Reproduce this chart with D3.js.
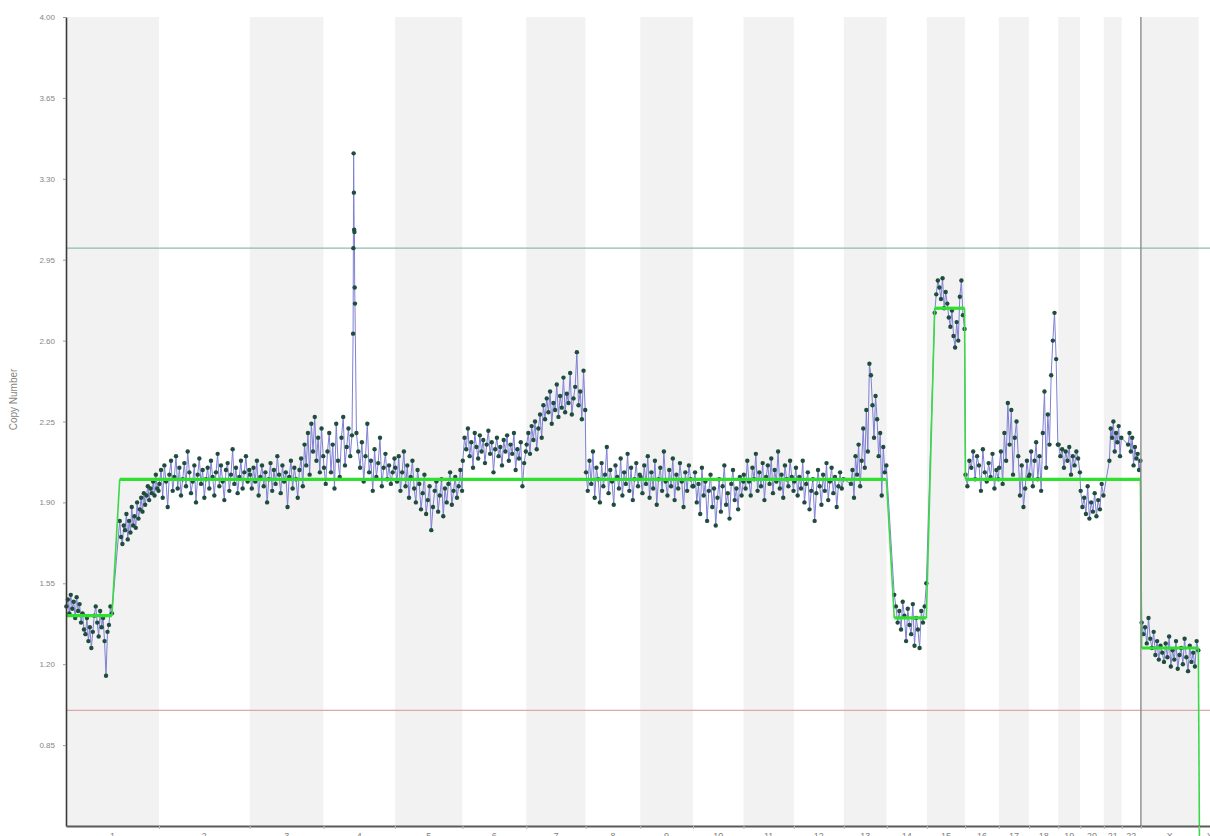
<!DOCTYPE html>
<html>
<head>
<meta charset="utf-8">
<script src="https://cdn.jsdelivr.net/npm/d3@7"></script>
<style>
  body { margin: 0; background: #fff; }
  svg { display: block; }
</style>
</head>
<body>
<svg id="chart" width="1210" height="836"></svg>
<script>
// ---- chromosome layout (hg19 lengths, Mb) ----
const chrNames = ['1','2','3','4','5','6','7','8','9','10','11','12','13','14','15','16','17','18','19','20','21','22','X','Y'];
const chrLengths = [249.25,243.2,198.0,191.15,180.9,171.1,159.1,146.4,141.2,135.5,135.0,133.85,115.2,107.35,102.5,90.35,81.2,78.1,59.1,63.0,48.1,51.3,155.3,59.4];

// ---- y axis ----
const yTicks = [0.85,1.20,1.55,1.90,2.25,2.60,2.95,3.30,3.65,4.00];
const refHigh = 3.0;
const refLow = 1.0;

// ---- probe copy-number values, in genomic order per chromosome arm / region ----
const chr1p = [1.45,1.48,1.42,1.50,1.44,1.47,1.40,1.49,1.43,1.46,1.38,1.42,1.35,1.33,1.40,1.30,1.36,1.27,1.34,1.41,1.45,1.38,1.32,1.43,1.36,1.40,1.30,1.15,1.34,1.37,1.45,1.42];
const chr1q = [1.82,1.75,1.72,1.80,1.78,1.85,1.74,1.82,1.77,1.88,1.80,1.84,1.79,1.90,1.83,1.87,1.92,1.86,1.94,1.89,1.93,1.97,1.91,1.96,1.94,1.99,1.93,2.02,1.96,1.95];
const chr2 = [1.98,2.04,1.92,2.06,1.99,1.88,2.02,2.08,1.95,2.01,2.10,1.96,2.05,1.93,2.00,2.07,1.97,2.12,2.03,1.94,1.99,2.06,1.90,2.02,2.09,1.98,2.04,1.92,2.00,2.05,1.96,2.08,2.01,1.93,2.03,2.11,1.97,2.06,1.99,1.91,2.04,2.07,1.95,2.02,2.13,1.98,2.05,1.94,2.01,2.08,1.96,2.03,2.10,1.99,2.04];
const chr3 = [2.02,1.96,2.05,1.99,2.08,1.93,2.01,2.06,1.97,2.03,1.90,2.00,2.07,1.95,2.04,1.98,2.10,2.02,1.94,2.06,1.99,2.03,1.88,2.01,2.08,1.96,2.05,2.00,1.92,2.04,2.09,1.97,2.15,2.06,2.20,2.02,2.24,2.12,2.27,2.08,2.18,2.03,2.22,2.10];
const chr4a = [2.05,1.98,2.12,2.20,2.03,2.15,1.96,2.24,2.08,2.01,2.18,2.27,2.06,2.14,2.22,2.10,2.19];
const chr4focal = [2.63,3.00,3.41,3.24,3.08,3.07,2.83,2.76];
const chr4b = [2.20,2.12,2.05,2.16,1.99,2.10,2.24,2.03,2.08,1.95,2.13,2.01,2.07,2.18,1.97,2.05,2.11,2.00,2.06,1.98,2.03,2.09];
const chr5 = [2.05,1.99,2.10,1.95,2.03,2.12,1.97,2.06,1.92,2.01,2.08,1.96,1.90,2.04,1.98,1.87,1.94,2.02,1.85,1.91,1.97,1.78,1.88,1.95,1.99,1.86,1.93,2.00,1.84,1.96,1.90,1.98,2.03,1.89,1.95,2.01,1.92,1.97,2.04,1.95];
const chr6 = [2.08,2.18,2.13,2.22,2.10,2.16,2.05,2.20,2.14,2.09,2.19,2.12,2.17,2.07,2.15,2.21,2.11,2.16,2.03,2.13,2.18,2.10,2.14,2.06,2.17,2.12,2.19,2.08,2.15,2.11,2.20,2.04,2.13,2.09,2.16,1.97,2.07,2.12];
const chr7 = [2.15,2.20,2.11,2.23,2.17,2.25,2.13,2.22,2.28,2.18,2.32,2.26,2.35,2.29,2.38,2.24,2.33,2.30,2.41,2.27,2.36,2.31,2.44,2.29,2.37,2.33,2.46,2.28,2.35,2.40,2.55,2.32,2.38,2.26,2.47,2.30];
const chr8 = [2.03,1.95,2.08,1.98,2.12,1.92,2.05,2.00,1.90,2.07,1.97,2.02,2.14,1.94,2.04,1.99,1.89,2.06,2.01,1.96,2.09,1.93,2.03,1.98,2.11,1.95,2.05,1.91,2.00,2.07,1.97,2.02];
const chr9 = [2.01,1.94,2.06,1.98,2.10,1.92,2.03,1.96,2.08,1.89,2.00,2.05,1.95,2.12,1.99,1.93,2.04,1.97,2.09,1.91,2.02,1.96,2.07,1.99,1.88,2.03,1.95,2.06,2.00,1.97];
const chr10 = [1.97,2.03,1.90,1.98,1.85,2.05,1.93,1.99,1.82,1.95,2.02,1.88,1.96,1.80,1.92,2.00,1.86,1.97,2.06,1.89,1.94,1.83,1.98,2.04,1.91,1.96,1.87,2.01,1.93,1.99];
const chr11 = [2.02,1.96,2.08,1.99,1.93,2.05,2.00,2.11,1.95,2.03,1.97,2.07,1.91,2.01,2.06,1.98,2.09,1.94,2.04,1.99,2.12,1.96,2.02,1.92,2.06,2.00,1.97,2.08,2.01,1.95];
const chr12 = [1.99,2.05,1.93,2.01,1.96,2.08,1.90,1.98,2.03,1.87,1.95,2.00,1.82,1.94,2.04,1.97,1.89,2.02,1.95,2.07,1.91,1.99,2.05,1.94,2.01,1.88,1.97,2.03,1.96,2.00];
const chr13 = [1.98,2.04,1.92,2.10,2.02,2.15,1.97,2.08,2.22,2.05,2.30,2.12,2.50,2.45,2.32,2.18,2.36,2.26,2.10,2.20,1.93,2.14,2.03,2.06];
const chr14 = [1.50,1.45,1.38,1.43,1.35,1.47,1.41,1.30,1.44,1.37,1.33,1.46,1.28,1.40,1.35,1.27,1.43,1.38,1.45,1.55];
const chr15 = [2.72,2.80,2.86,2.83,2.78,2.87,2.74,2.81,2.76,2.70,2.66,2.73,2.62,2.57,2.68,2.60,2.79,2.86,2.71,2.65];
const chr16 = [2.02,1.97,2.08,2.05,2.12,2.00,2.10,2.06,1.95,2.13,2.03,1.99,2.07,2.01,2.11,1.96,2.04,2.00];
const chr17 = [2.05,2.12,1.98,2.20,2.08,2.33,2.15,2.30,2.02,2.18,2.25,2.10,1.93,2.06,1.88,1.96,2.08,2.01];
const chr18 = [2.02,2.12,1.97,2.08,2.16,2.00,2.10,1.95,2.20,2.38,2.05,2.28,2.15,2.45,2.60,2.72,2.52,2.15];
const chr19 = [2.15,2.10,2.13,2.05,2.12,2.08,2.14,2.02,2.10,2.06,2.12,2.09,2.03];
const chr20 = [1.95,1.88,1.92,1.85,1.97,1.83,1.90,1.86,1.94,1.84,1.91,1.87,1.98,1.93];
const chr21 = [2.08,2.22,2.18,2.25,2.12,2.20,2.16,2.23,2.10,2.18];
const chr22 = [2.15,2.20,2.12,2.18,2.06,2.14,2.09,2.11,2.04,2.08];
const chrX = [1.38,1.33,1.36,1.29,1.40,1.31,1.27,1.34,1.24,1.30,1.22,1.28,1.25,1.21,1.29,1.23,1.32,1.19,1.26,1.22,1.30,1.18,1.24,1.27,1.20,1.31,1.23,1.17,1.28,1.21,1.25,1.19,1.30,1.26];

// ---- segmentation calls ----
const segFromChr = ['1','1','14','15','16','X','Y'];
const segFromPos = [1,144,20,21,1,2,3];
const segToChr   = ['1','13','14','15','22','X','Y'];
const segToPos   = [123,114,106,101,50,154,59];
const segCN      = [1.41,2.00,1.40,2.74,2.00,1.27,0.05];

// ---- derived genome coordinates ----
const offsets = [];
chrLengths.reduce((acc, len, i) => { offsets[i] = acc; return acc + len; }, 0);
const genomeTotal = d3.sum(chrLengths);
const gpos = (chr, pos) => offsets[chrNames.indexOf(chr)] + pos;

// region table: chromosome, first probe (Mb), last probe (Mb), values
const probeBlocks = [
  ['1',1,123,chr1p], ['1',144,248,chr1q], ['2',1,242,chr2], ['3',1,197,chr3],
  ['4',1,76,chr4a], ['4',79,84,chr4focal], ['4',88,190,chr4b],
  ['5',1,180,chr5], ['6',1,170,chr6], ['7',1,158,chr7], ['8',1,145,chr8],
  ['9',1,140,chr9], ['10',1,135,chr10], ['11',1,134,chr11], ['12',1,133,chr12],
  ['13',19,114,chr13], ['14',20,106,chr14], ['15',21,101,chr15], ['16',1,89,chr16],
  ['17',1,80,chr17], ['18',1,77,chr18], ['19',1,58,chr19], ['20',1,62,chr20],
  ['21',15,47,chr21], ['22',17,50,chr22], ['X',2,154,chrX]
];
const probes = probeBlocks.flatMap(([chr, from, to, vals]) =>
  vals.map((v, i) => ({ g: gpos(chr, from + (vals.length > 1 ? (to - from) * i / (vals.length - 1) : 0)), v }))
);
const segments = segCN.map((v, i) => ({
  a: gpos(segFromChr[i], segFromPos[i]),
  b: gpos(segToChr[i], segToPos[i]),
  v
}));

// ---- scales ----
const plotTop = 17, plotBottom = 826, plotLeft = 66;
const x = d3.scaleLinear().domain([0, genomeTotal]).range([plotLeft, 1221]);
const y = d3.scaleLinear().domain([0.5, 4.0]).range([plotBottom, plotTop]);

const svg = d3.select('#chart');

// chromosome bands
svg.append('g').selectAll('rect')
  .data(chrNames)
  .join('rect')
  .attr('x', (d, i) => x(offsets[i]))
  .attr('y', plotTop)
  .attr('width', (d, i) => x(offsets[i] + chrLengths[i]) - x(offsets[i]))
  .attr('height', plotBottom - plotTop)
  .attr('fill', (d, i) => i % 2 === 0 ? '#f2f2f2' : '#ffffff');

// reference levels
svg.append('line')
  .attr('x1', plotLeft).attr('x2', 1210)
  .attr('y1', y(refHigh)).attr('y2', y(refHigh))
  .attr('stroke', '#8cbcae').attr('stroke-width', 1.2);
svg.append('line')
  .attr('x1', plotLeft).attr('x2', 1210)
  .attr('y1', y(refLow)).attr('y2', y(refLow))
  .attr('stroke', '#dba8ab').attr('stroke-width', 1.2);

// probe trace
svg.append('path')
  .datum(probes)
  .attr('fill', 'none')
  .attr('stroke', '#7f80d4')
  .attr('stroke-width', 1)
  .attr('d', d3.line().x(d => x(d.g)).y(d => y(d.v)));

svg.append('g').selectAll('circle')
  .data(probes)
  .join('circle')
  .attr('cx', d => x(d.g))
  .attr('cy', d => y(d.v))
  .attr('r', 2.2)
  .attr('fill', '#1f4d3b');

// segmentation: transitions then levels
const segG = svg.append('g');
segG.selectAll('line.link')
  .data(segments.slice(1))
  .join('line')
  .attr('class', 'link')
  .attr('x1', (d, i) => x(segments[i].b))
  .attr('y1', (d, i) => y(segments[i].v))
  .attr('x2', d => x(d.a))
  .attr('y2', d => y(d.v))
  .attr('stroke', '#3cd848')
  .attr('stroke-width', 1.6);
segG.selectAll('line.level')
  .data(segments)
  .join('line')
  .attr('class', 'level')
  .attr('x1', d => x(d.a))
  .attr('x2', d => x(d.b))
  .attr('y1', d => y(d.v))
  .attr('y2', d => y(d.v))
  .attr('stroke', '#2fe02f')
  .attr('stroke-width', 3.2);

// marker at start of chromosome X
svg.append('line')
  .attr('x1', x(gpos('X', 0))).attr('x2', x(gpos('X', 0)))
  .attr('y1', plotTop).attr('y2', plotBottom)
  .attr('stroke', '#8c8c8c').attr('stroke-width', 1.4);

// y axis
const yAxis = svg.append('g')
  .attr('transform', `translate(${plotLeft},0)`)
  .call(d3.axisLeft(y).tickValues(yTicks).tickFormat(d3.format('.2f')).tickSize(3).tickSizeOuter(0).tickPadding(8));
yAxis.select('.domain').attr('stroke', '#3a3a3a').attr('stroke-width', 1.6);
yAxis.selectAll('.tick line').attr('stroke', '#999');
yAxis.selectAll('.tick text')
  .attr('fill', '#858585')
  .style('font-family', 'Liberation Sans, Arial, sans-serif')
  .style('font-size', '8px');

svg.append('text')
  .attr('transform', `translate(17,${(plotTop + plotBottom) / 2 - 22}) rotate(-90)`)
  .attr('text-anchor', 'middle')
  .attr('fill', '#858585')
  .style('font-family', 'Liberation Sans, Arial, sans-serif')
  .style('font-size', '10px')
  .text('Copy Number');

// x axis
const bounds = offsets.slice(1);
const xAxis = svg.append('g')
  .attr('transform', `translate(0,${plotBottom})`)
  .call(d3.axisBottom(x).tickValues(bounds).tickFormat('').tickSize(3).tickSizeOuter(0));
xAxis.select('.domain').attr('stroke', '#5a5a5a').attr('stroke-width', 2);
xAxis.selectAll('.tick line').attr('stroke', '#bbb');

// chromosome labels sit at the lower edge, partly below the frame
svg.append('g').selectAll('text')
  .data(chrNames)
  .join('text')
  .attr('x', (d, i) => x(offsets[i] + chrLengths[i] / 2))
  .attr('y', 839)
  .attr('text-anchor', 'middle')
  .attr('fill', '#808080')
  .style('font-family', 'Liberation Sans, Arial, sans-serif')
  .style('font-size', '9px')
  .text(d => d);
</script>
</body>
</html>
